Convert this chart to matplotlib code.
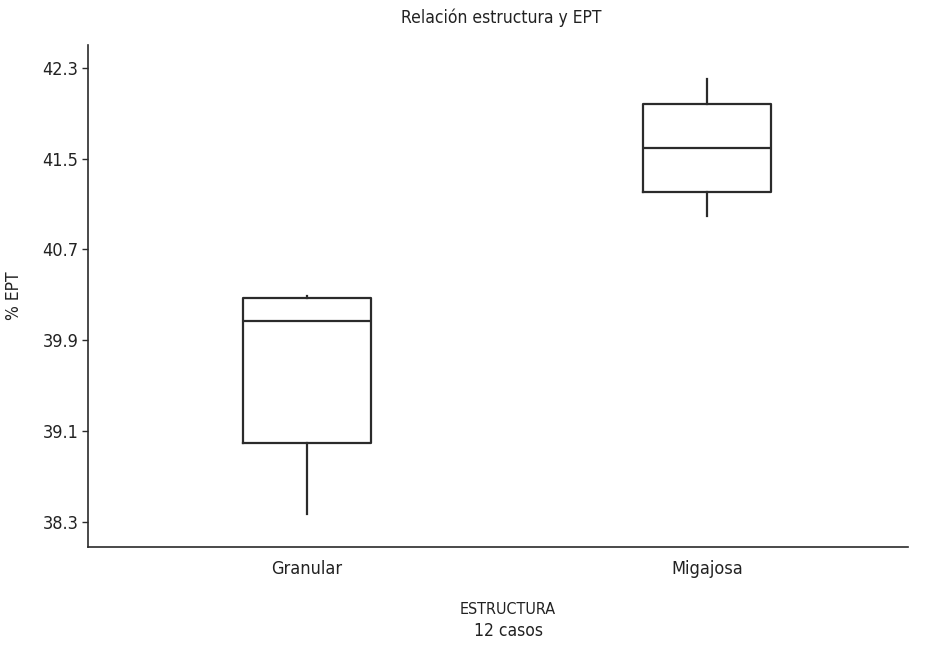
import numpy as np
import matplotlib as mpl
from matplotlib import pyplot as plt

plt.rcParams["font.family"] = ["DejaVu Sans"]
plt.rcParams["font.stretch"] = "condensed"

categories = ["Granular", "Migajosa"]
whis_lo = [38.37, 40.99]
q1 = [39.00, 41.21]
med = [40.07, 41.59]
q3 = [40.27, 41.98]
whis_hi = [40.29, 42.20]
yticks = [38.3, 39.1, 39.9, 40.7, 41.5, 42.3]

stats = []
for i, name in enumerate(categories):
    stats.append(dict(label=name, whislo=whis_lo[i], q1=q1[i], med=med[i],
                      q3=q3[i], whishi=whis_hi[i], fliers=[]))

fig = plt.figure(figsize=(9.29, 6.46), dpi=100)
ax = fig.add_axes([88 / 929, 1 - 547 / 646, 820 / 929, 502 / 646])

col = "#2b2b2b"
txt = "#222222"
lw = 1.6
ax.bxp(stats, positions=[0, 1], widths=0.32, showcaps=False,
       boxprops=dict(color=col, linewidth=lw),
       medianprops=dict(color=col, linewidth=lw),
       whiskerprops=dict(color=col, linewidth=lw))

ax.set_xlim(-0.5475, 1.5025)
ax.set_ylim(38.08, 42.50)
ax.set_yticks(yticks)
ax.set_yticklabels([f"{v:.1f}" for v in yticks], fontsize=13, color=txt)
ax.tick_params(axis="x", length=0, labelsize=13, labelcolor=txt, pad=9)
ax.tick_params(axis="y", length=4, width=1, color=col, pad=3)
for s in ["top", "right"]:
    ax.spines[s].set_visible(False)
for s in ["left", "bottom"]:
    ax.spines[s].set_color(col)
    ax.spines[s].set_linewidth(1.2)

fig.text(14 / 929, 1 - 296 / 646, "% EPT", rotation=90, ha="center", va="center",
         fontsize=12.5, color=txt)
fig.text(508 / 929, 1 - 610 / 646, "ESTRUCTURA", ha="center", va="center",
         fontsize=11.5, color=txt)
fig.text(508 / 929, 1 - 631 / 646, "12 casos", ha="center", va="center",
         fontsize=12.5, color=txt)
fig.text(501 / 929, 1 - 18 / 646, "Relación estructura y EPT", ha="center", va="center",
         fontsize=12.5, color=txt)

fig.savefig("out.png", dpi=100)
